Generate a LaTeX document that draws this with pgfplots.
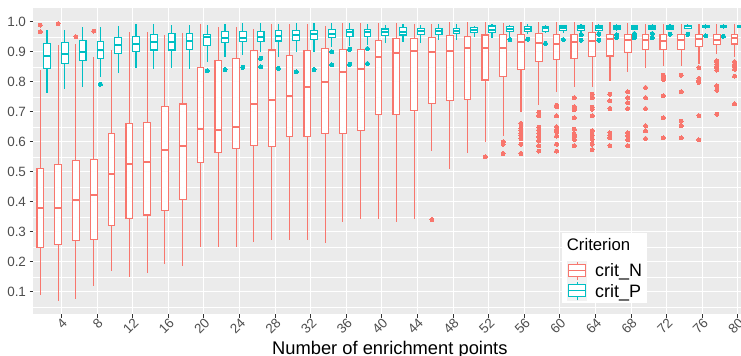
\documentclass[border=0pt]{standalone}
\usepackage{fontspec}
\setmainfont{Liberation Sans}
\usepackage{pgfplots}
\usepackage{pgfplotstable}
\pgfplotsset{compat=1.18}
\usepgfplotslibrary{statistics}

\definecolor{colN}{HTML}{F8766D}
\definecolor{colP}{HTML}{00BFC4}
\definecolor{panelbg}{HTML}{EBEBEB}
\definecolor{keybg}{HTML}{F2F2F2}
\definecolor{tickgrey}{HTML}{333333}
\definecolor{labgrey}{HTML}{4D4D4D}

% five-number summaries per number of enrichment points
\pgfplotstableread{
pos lw lq med uq uw
2  0.088 0.248 0.378 0.511 0.839
4  0.070 0.258 0.378 0.524 0.922
6  0.077 0.272 0.407 0.537 0.926
8  0.120 0.273 0.421 0.540 0.881
10 0.169 0.320 0.494 0.628 0.906
12 0.150 0.345 0.526 0.661 0.967
14 0.163 0.356 0.533 0.665 0.967
16 0.193 0.372 0.572 0.717 0.956
18 0.187 0.408 0.587 0.726 0.961
20 0.248 0.531 0.641 0.847 0.992
22 0.248 0.564 0.639 0.870 0.981
24 0.248 0.578 0.649 0.878 0.981
26 0.267 0.587 0.726 0.903 0.976
28 0.272 0.583 0.739 0.906 0.992
30 0.272 0.619 0.753 0.887 0.992
32 0.272 0.619 0.781 0.903 0.992
34 0.261 0.628 0.798 0.911 0.987
36 0.334 0.628 0.831 0.908 0.997
38 0.341 0.639 0.842 0.909 0.997
40 0.341 0.692 0.881 0.937 0.995
42 0.334 0.692 0.897 0.945 0.995
44 0.341 0.703 0.902 0.945 0.992
46 0.570 0.728 0.900 0.948 0.992
48 0.508 0.737 0.902 0.953 0.998
50 0.564 0.742 0.913 0.950 0.998
52 0.600 0.806 0.913 0.956 0.998
54 0.619 0.819 0.913 0.958 0.995
56 0.698 0.842 0.933 0.958 0.998
58 0.722 0.867 0.930 0.961 0.998
60 0.767 0.875 0.926 0.958 0.998
62 0.783 0.878 0.933 0.958 0.998
64 0.781 0.883 0.937 0.964 0.998
66 0.803 0.886 0.941 0.959 0.998
68 0.831 0.898 0.939 0.959 0.997
70 0.847 0.909 0.939 0.959 0.992
72 0.853 0.909 0.936 0.959 0.992
74 0.852 0.909 0.939 0.959 0.992
76 0.858 0.917 0.941 0.959 0.992
78 0.891 0.924 0.939 0.958 0.992
80 0.883 0.926 0.945 0.959 0.992
}\tabN

\pgfplotstableread{
pos lw lq med uq uw
2  0.763 0.845 0.887 0.928 0.974
4  0.777 0.861 0.894 0.931 0.974
6  0.781 0.870 0.900 0.937 0.981
8  0.817 0.878 0.906 0.933 0.981
10 0.830 0.894 0.924 0.947 0.987
12 0.845 0.900 0.926 0.952 0.992
14 0.841 0.906 0.933 0.957 0.992
16 0.847 0.906 0.933 0.961 0.989
18 0.842 0.909 0.936 0.961 0.989
20 0.865 0.922 0.950 0.959 0.989
22 0.883 0.931 0.947 0.967 0.992
24 0.889 0.933 0.947 0.967 0.995
26 0.898 0.933 0.950 0.967 0.995
28 0.881 0.936 0.952 0.970 0.992
30 0.900 0.939 0.955 0.970 0.997
32 0.900 0.942 0.958 0.972 0.997
34 0.915 0.948 0.959 0.974 0.997
36 0.919 0.952 0.965 0.974 0.995
38 0.921 0.952 0.965 0.974 0.992
40 0.928 0.953 0.967 0.976 0.989
42 0.933 0.956 0.967 0.980 0.992
44 0.930 0.958 0.969 0.978 0.989
46 0.939 0.959 0.969 0.978 0.992
48 0.939 0.961 0.970 0.978 0.992
50 0.950 0.964 0.974 0.980 0.987
52 0.945 0.964 0.974 0.986 0.992
54 0.950 0.967 0.976 0.983 0.989
56 0.958 0.969 0.976 0.983 0.992
58 0.961 0.969 0.978 0.983 0.989
60 0.961 0.970 0.978 0.986 0.989
62 0.961 0.970 0.978 0.986 0.992
64 0.967 0.972 0.980 0.986 0.992
66 0.969 0.974 0.980 0.986 0.991
68 0.972 0.976 0.981 0.986 0.989
70 0.972 0.976 0.981 0.987 0.991
72 0.972 0.976 0.981 0.987 0.991
74 0.976 0.978 0.986 0.989 0.992
76 0.976 0.980 0.986 0.989 0.992
78 0.976 0.980 0.986 0.989 0.992
80 0.976 0.980 0.986 0.989 0.992
}\tabP

% outliers, placed at the dodged box positions
\pgfplotstableread{
x y
1.625 0.989
1.625 0.967
3.625 0.994
5.625 0.950
7.625 0.969
45.625 0.341
51.625 0.550
53.625 0.600
53.625 0.592
53.625 0.561
55.625 0.661
55.625 0.645
55.625 0.637
55.625 0.628
55.625 0.620
55.625 0.611
55.625 0.592
55.625 0.561
57.625 0.698
57.625 0.686
57.625 0.648
57.625 0.639
57.625 0.628
57.625 0.617
57.625 0.603
57.625 0.587
57.625 0.569
59.625 0.722
59.625 0.717
59.625 0.686
59.625 0.650
59.625 0.641
59.625 0.633
59.625 0.619
59.625 0.592
59.625 0.569
61.625 0.747
61.625 0.717
61.625 0.711
61.625 0.706
61.625 0.680
61.625 0.642
61.625 0.625
61.625 0.617
61.625 0.608
61.625 0.587
63.625 0.759
63.625 0.747
63.625 0.715
63.625 0.709
63.625 0.686
63.625 0.637
63.625 0.622
63.625 0.608
63.625 0.592
63.625 0.574
65.625 0.759
65.625 0.736
65.625 0.711
65.625 0.630
65.625 0.620
65.625 0.613
65.625 0.587
67.625 0.767
67.625 0.747
67.625 0.730
67.625 0.711
67.625 0.630
67.625 0.620
67.625 0.606
67.625 0.587
69.625 0.781
69.625 0.747
69.625 0.711
69.625 0.653
69.625 0.636
69.625 0.611
71.625 0.822
71.625 0.815
71.625 0.808
71.625 0.753
71.625 0.680
71.625 0.613
73.625 0.822
73.625 0.767
73.625 0.669
73.625 0.653
73.625 0.613
75.625 0.847
75.625 0.811
75.625 0.803
75.625 0.798
75.625 0.687
75.625 0.606
77.625 0.870
77.625 0.865
77.625 0.858
77.625 0.852
77.625 0.847
77.625 0.839
77.625 0.787
77.625 0.772
77.625 0.692
79.625 0.867
79.625 0.859
79.625 0.850
79.625 0.842
79.625 0.819
79.625 0.726
}\outN

\pgfplotstableread{
x y
8.375 0.792
20.375 0.837
22.375 0.841
24.375 0.848
26.375 0.878
26.375 0.850
28.375 0.845
30.375 0.833
32.375 0.841
34.375 0.900
34.375 0.856
36.375 0.908
36.375 0.858
38.375 0.911
38.375 0.861
54.375 0.941
56.375 0.942
58.375 0.928
60.375 0.941
62.375 0.956
62.375 0.939
64.375 0.959
64.375 0.939
66.375 0.956
66.375 0.948
68.375 0.961
68.375 0.953
68.375 0.947
70.375 0.961
70.375 0.947
72.375 0.958
74.375 0.958
76.375 0.953
78.375 0.952
80.375 0.964
80.375 0.953
}\outP

% one box from row #2 of table #1, colour #3, dodge offset #4
\newcommand{\boxfromrow}[4]{%
  \pgfplotstablegetelem{#2}{pos}\of#1\pgfmathsetmacro\bPos{\pgfplotsretval+#4}%
  \pgfplotstablegetelem{#2}{lw}\of#1\edef\bLW{\pgfplotsretval}%
  \pgfplotstablegetelem{#2}{lq}\of#1\edef\bLQ{\pgfplotsretval}%
  \pgfplotstablegetelem{#2}{med}\of#1\edef\bMed{\pgfplotsretval}%
  \pgfplotstablegetelem{#2}{uq}\of#1\edef\bUQ{\pgfplotsretval}%
  \pgfplotstablegetelem{#2}{uw}\of#1\edef\bUW{\pgfplotsretval}%
  \edef\doplot{\noexpand\addplot[color=#3, fill=white, line width=1.1bp, forget plot,
    boxplot/every box/.style={draw=#3, fill=white},
    boxplot/every whisker/.style={draw=#3},
    boxplot/every median/.style={draw=#3, line width=2bp},
    boxplot prepared={draw position=\bPos, lower whisker=\bLW, lower quartile=\bLQ,
      median=\bMed, upper quartile=\bUQ, upper whisker=\bUW}] coordinates {};}%
  \doplot
}

% legend key: grey square with a small box-and-whisker glyph; #1 colour, #2 bottom edge
\newcommand{\legendkey}[2]{%
  \fill[keybg] (533.7bp,#2) rectangle ++(20.6bp,20.3bp);
  \draw[draw=#1, line width=0.9bp] ([xshift=10.3bp,yshift=1bp]533.7bp,#2) -- ++(0,18.3bp);
  \path[draw=#1, fill=white, line width=0.9bp] ([xshift=1.8bp,yshift=5bp]533.7bp,#2) rectangle ++(17bp,11.7bp);
  \draw[draw=#1, line width=0.9bp] ([xshift=1.8bp,yshift=11bp]533.7bp,#2) -- ++(17bp,0);
}

\begin{document}
\begin{tikzpicture}
\begin{axis}[
  at={(0,0)}, anchor=south west,
  scale only axis,
  width=708bp, height=306bp,
  xmin=0.8, xmax=80.35,
  ymin=0.025, ymax=1.045,
  axis background/.style={fill=panelbg},
  axis line style={draw=none},
  xtick={4,8,...,80},
  ytick={0.1,0.2,0.3,0.4,0.5,0.6,0.7,0.8,0.9,1.0},
  minor ytick={0.05,0.15,0.25,0.35,0.45,0.55,0.65,0.75,0.85,0.95},
  grid=both,
  major grid style={white, line width=1.1bp},
  minor grid style={white, line width=0.55bp},
  minor tick length=0pt,
  major tick length=3.5bp,
  tick align=outside,
  xtick pos=bottom, ytick pos=left,
  tick style={color=tickgrey, line width=0.8bp},
  /pgf/number format/assume math mode=true,
  ticklabel style={font=\fontsize{13.5}{15}\selectfont, color=labgrey},
  yticklabel style={/pgf/number format/fixed, /pgf/number format/fixed zerofill, /pgf/number format/precision=1},
  xticklabel style={rotate=45, anchor=north east},
  xticklabel shift=-5bp,
  xlabel={Number of enrichment points},
  xlabel style={font=\fontsize{18.4}{20}\selectfont, at={(axis description cs:0.504,0)}, anchor=base, yshift=-40bp},
  boxplot/draw direction=y,
  boxplot/box extend=0.75,
  boxplot/whisker extend=0,
]
\pgfplotsinvokeforeach{0,...,39}{
  \boxfromrow{\tabN}{#1}{colN}{-0.375}
  \boxfromrow{\tabP}{#1}{colP}{0.375}
}
\addplot[only marks, mark=*, mark size=2bp, mark options={fill=colN, draw=colN, line width=0pt}, forget plot] table[x=x, y=y] {\outN};
\addplot[only marks, mark=*, mark size=2bp, mark options={fill=colP, draw=colP, line width=0pt}, forget plot] table[x=x, y=y] {\outP};
\end{axis}

% legend (panel origin at the lower left corner, units in bp)
\fill[white] (528.7bp,11.6bp) rectangle (614.3bp,81.6bp);
\node[anchor=base west, inner sep=0pt, font=\fontsize{16.8}{18}\selectfont] at (533.7bp,63.6bp) {Criterion};
\legendkey{colN}{33.3bp}
\legendkey{colP}{13.0bp}
\node[anchor=base west, inner sep=0pt, font=\fontsize{18}{20}\selectfont] at (562bp,37.6bp) {crit\_N};
\node[anchor=base west, inner sep=0pt, font=\fontsize{18}{20}\selectfont] at (562bp,17.3bp) {crit\_P};

\pgfresetboundingbox
\useasboundingbox (-33bp,-41.7bp) rectangle (708bp,314.3bp);
\end{tikzpicture}
\end{document}
